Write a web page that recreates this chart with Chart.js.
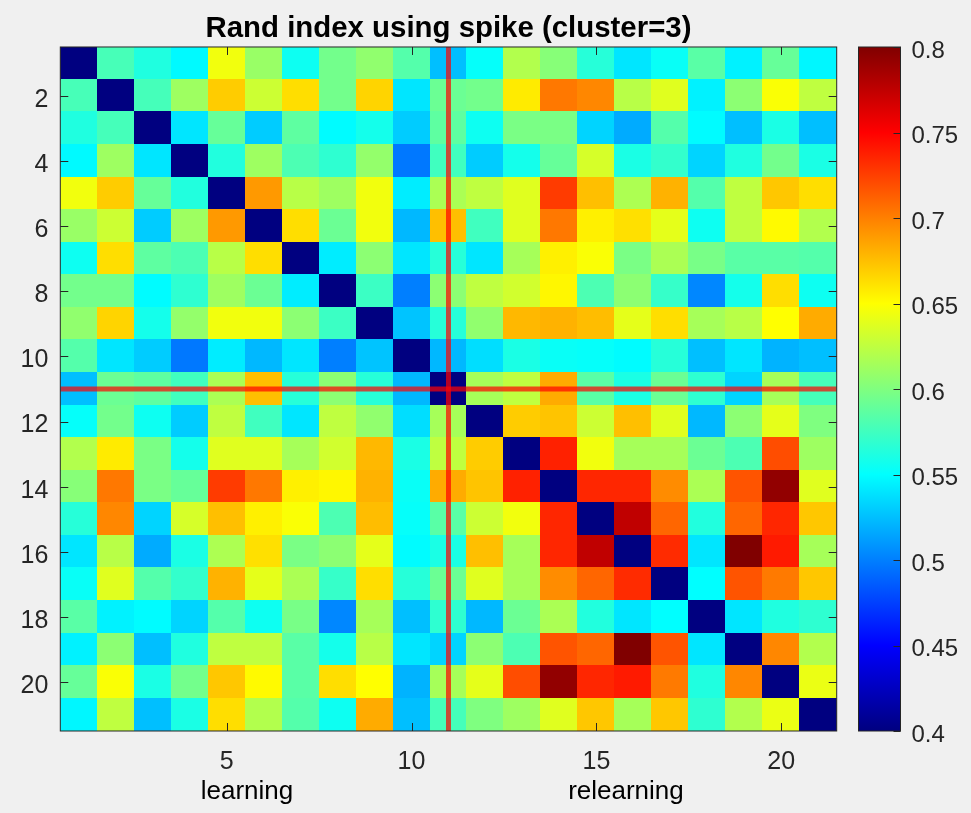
<!DOCTYPE html>
<html>
<head>
<meta charset="utf-8">
<title>Rand index using spike</title>
<script src="https://cdn.jsdelivr.net/npm/chart.js@4"></script>
<style>
  html, body { margin: 0; padding: 0; background: #f0f0f0; }
  #wrap { position: relative; width: 971px; height: 813px; overflow: hidden; }
  canvas { position: absolute; left: 0; top: 0; }
</style>
</head>
<body>
<div id="wrap">
  <canvas id="heat" width="971" height="813"></canvas>
  <canvas id="cbar" width="971" height="813"></canvas>
</div>
<script>
// Rand index between trials. The matrix is symmetric,
// so only the part right of the diagonal is kept, one list per row.
const trials = [1,2,3,4,5,6,7,8,9,10,11,12,13,14,15,16,17,18,19,20,21];
const diagonal = 0.4;
const upperRows = [
  [.578,.562,.548,.645,.61,.555,.595,.607,.583,.525,.552,.62,.603,.565,.54,.553,.585,.545,.59,.547],
  [.577,.612,.67,.63,.663,.595,.667,.54,.592,.595,.658,.703,.697,.622,.638,.545,.605,.648,.625],
  [.54,.59,.53,.587,.549,.558,.53,.587,.555,.598,.598,.533,.517,.583,.549,.525,.56,.525],
  [.563,.612,.58,.568,.608,.497,.575,.53,.558,.59,.634,.56,.57,.533,.562,.595,.56],
  [.69,.622,.612,.645,.543,.617,.625,.638,.727,.675,.618,.68,.583,.625,.672,.663],
  [.663,.592,.645,.522,.675,.575,.638,.703,.656,.662,.64,.555,.625,.652,.62],
  [.543,.605,.54,.565,.54,.615,.656,.648,.598,.617,.597,.585,.585,.583],
  [.573,.5,.605,.625,.632,.653,.58,.605,.571,.503,.558,.663,.555],
  [.527,.565,.607,.678,.68,.676,.64,.663,.615,.622,.65,.683],
  [.522,.537,.56,.553,.552,.549,.565,.525,.54,.52,.525],
  [.615,.625,.683,.585,.56,.592,.568,.533,.615,.577],
  [.67,.673,.63,.675,.638,.522,.605,.64,.6],
  [.737,.645,.615,.615,.592,.58,.72,.612],
  [.735,.735,.695,.617,.717,.793,.638],
  [.775,.71,.563,.71,.735,.672],
  [.733,.54,.8,.74,.615],
  [.55,.717,.702,.672],
  [.54,.562,.568],
  [.697,.62],
  [.642],
];
const xTickValues = [5, 10, 15, 20];
const yTickValues = [2, 4, 6, 8, 10, 12, 14, 16, 18, 20];
const cbarTickValues = [0.4, 0.45, 0.5, 0.55, 0.6, 0.65, 0.7, 0.75, 0.8];
const markedTrial = 11;
const groupNames = ['learning', 'relearning'];
const groupCentres = [5.55, 15.8];

const TEXT = '#262626';
const FONT = 'Arial, "Liberation Sans", sans-serif';
const V_MIN = 0.4, V_MAX = 0.8;

// ====== COLORMAP ======

const jetStops = [
  [0, [0, 0, 128]], [0.125, [0, 0, 255]], [0.375, [0, 255, 255]],
  [0.625, [255, 255, 0]], [0.875, [255, 0, 0]], [1, [128, 0, 0]],
];

function jet(v) {
  const t = Math.min(1, Math.max(0, (v - V_MIN) / (V_MAX - V_MIN)));
  for (let i = 1; i < jetStops.length; i++) {
    const [t0, c0] = jetStops[i - 1];
    const [t1, c1] = jetStops[i];
    if (t <= t1) {
      const f = (t - t0) / (t1 - t0);
      return `rgb(${c0.map((c, k) => Math.round(c + (c1[k] - c) * f)).join(',')})`;
    }
  }
  return 'rgb(128,0,0)';
}

// solid tile used as point style, a bit oversize so no seams show between cells
const tiles = {};
function tile(color, w, h) {
  const key = `${color}|${w}|${h}`;
  if (!tiles[key]) {
    const c = document.createElement('canvas');
    c.width = Math.ceil(w) + 1;
    c.height = Math.ceil(h) + 1;
    const g = c.getContext('2d');
    g.fillStyle = color;
    g.fillRect(0, 0, c.width, c.height);
    tiles[key] = c;
  }
  return tiles[key];
}

// ====== DATA ======

const cells = [];
trials.forEach((rowTrial, r) => {
  trials.forEach((colTrial, c) => {
    let v = diagonal;
    if (c > r) v = upperRows[r][c - r - 1];
    if (c < r) v = upperRows[c][r - c - 1];
    cells.push({ x: colTrial, y: rowTrial, v });
  });
});

// ====== PLUGINS ======

// MATLAB style box with inward ticks on all four sides
const boxTicks = {
  id: 'boxTicks',
  afterDatasetsDraw(chart) {
    const { ctx, chartArea: a, scales: { x, y } } = chart;
    const len = 8;
    ctx.save();
    ctx.strokeStyle = TEXT;
    ctx.lineWidth = 1;
    ctx.beginPath();
    xTickValues.forEach(t => {
      const px = Math.round(x.getPixelForValue(t)) + 0.5;
      ctx.moveTo(px, a.top); ctx.lineTo(px, a.top + len);
      ctx.moveTo(px, a.bottom); ctx.lineTo(px, a.bottom - len);
    });
    yTickValues.forEach(t => {
      const py = Math.round(y.getPixelForValue(t)) + 0.5;
      ctx.moveTo(a.left, py); ctx.lineTo(a.left + len, py);
      ctx.moveTo(a.right, py); ctx.lineTo(a.right - len, py);
    });
    ctx.stroke();
    ctx.strokeRect(a.left, a.top, a.right - a.left, a.bottom - a.top);
    ctx.restore();
  },
};

const groupLabels = {
  id: 'groupLabels',
  afterDraw(chart) {
    const { ctx, scales: { x } } = chart;
    ctx.save();
    ctx.font = `26px ${FONT}`;
    ctx.fillStyle = '#000';
    ctx.textAlign = 'center';
    ctx.textBaseline = 'alphabetic';
    groupNames.forEach((name, i) => ctx.fillText(name, x.getPixelForValue(groupCentres[i]), 799));
    ctx.restore();
  },
};

const cbarBox = {
  id: 'cbarBox',
  afterDatasetsDraw(chart) {
    const { ctx, chartArea: a, scales: { y } } = chart;
    ctx.save();
    ctx.strokeStyle = TEXT;
    ctx.lineWidth = 1;
    ctx.beginPath();
    cbarTickValues.forEach(t => {
      const py = Math.round(y.getPixelForValue(t)) + 0.5;
      ctx.moveTo(a.right, py); ctx.lineTo(a.right - 7, py);
    });
    ctx.stroke();
    ctx.strokeRect(a.left, a.top, a.right - a.left, a.bottom - a.top);
    ctx.restore();
  },
};

// ====== CHARTS ======

const tickFont = { family: FONT, size: 25 };

new Chart(document.getElementById('heat'), {
  type: 'scatter',
  data: {
    datasets: [
      {
        data: [{ x: markedTrial, y: 0.5 }, { x: markedTrial, y: 21.5 }],
        showLine: true, pointRadius: 0, borderWidth: 5, borderColor: 'rgba(255,0,0,0.7)',
      },
      {
        data: [{ x: 0.5, y: markedTrial }, { x: 21.5, y: markedTrial }],
        showLine: true, pointRadius: 0, borderWidth: 5, borderColor: 'rgba(255,0,0,0.7)',
      },
      {
        data: cells,
        pointRadius: 1,
        pointBorderWidth: 0,
        pointStyle: (c) => {
          if (!c.raw || !c.chart.chartArea) return 'rect';
          const a = c.chart.chartArea;
          return tile(jet(c.raw.v), (a.right - a.left) / 21, (a.bottom - a.top) / 21);
        },
      },
    ],
  },
  options: {
    responsive: false,
    animation: false,
    layout: { padding: { right: 134.3, bottom: 0, left: 0, top: 0 } },
    plugins: {
      legend: { display: false },
      tooltip: { enabled: false },
      title: {
        display: true,
        fullSize: false,
        text: 'Rand index using spike (cluster=3)',
        color: '#000',
        font: { family: FONT, size: 29.4, weight: 'bold', lineHeight: 1.2 },
        padding: { top: 11.7, bottom: 0 },
      },
    },
    scales: {
      x: {
        type: 'linear', min: 0.5, max: 21.5,
        grid: { display: false, drawTicks: false },
        border: { display: false },
        afterBuildTicks: (s) => { s.ticks = xTickValues.map(value => ({ value })); },
        afterFit: (s) => { s.height = 82; },
        ticks: { font: tickFont, color: TEXT, padding: 16, autoSkip: false, maxRotation: 0 },
      },
      y: {
        type: 'linear', min: 0.5, max: 21.5, reverse: true,
        grid: { display: false, drawTicks: false },
        border: { display: false },
        afterBuildTicks: (s) => { s.ticks = yTickValues.map(value => ({ value })); },
        afterFit: (s) => { s.width = 60.3; },
        ticks: { font: tickFont, color: TEXT, padding: 12, labelOffset: 4, autoSkip: false },
      },
    },
  },
  plugins: [boxTicks, groupLabels],
});

new Chart(document.getElementById('cbar'), {
  type: 'bar',
  data: {
    labels: ['Rand index'],
    datasets: [{
      data: [[V_MIN, V_MAX]],
      barPercentage: 1,
      categoryPercentage: 1,
      borderWidth: 0,
      backgroundColor: (c) => {
        const a = c.chart.chartArea;
        if (!a) return '#000';
        const grad = c.chart.ctx.createLinearGradient(0, a.bottom, 0, a.top);
        jetStops.forEach(([t, rgb]) => grad.addColorStop(t, `rgb(${rgb.join(',')})`));
        return grad;
      },
    }],
  },
  options: {
    responsive: false,
    animation: false,
    layout: { padding: { left: 858.5, top: 47, bottom: 82, right: 0 } },
    plugins: { legend: { display: false }, tooltip: { enabled: false } },
    scales: {
      x: { display: false },
      y: {
        position: 'right',
        min: V_MIN, max: V_MAX,
        grid: { display: false, drawTicks: false },
        border: { display: false },
        afterBuildTicks: (s) => { s.ticks = cbarTickValues.map(value => ({ value })); },
        afterFit: (s) => { s.width = 70.5; },
        ticks: {
          font: { family: FONT, size: 24 }, color: TEXT, padding: 11, labelOffset: 4, autoSkip: false,
          callback: (v) => String(Number(v.toFixed(2))),
        },
      },
    },
  },
  plugins: [cbarBox],
});
</script>
</body>
</html>
